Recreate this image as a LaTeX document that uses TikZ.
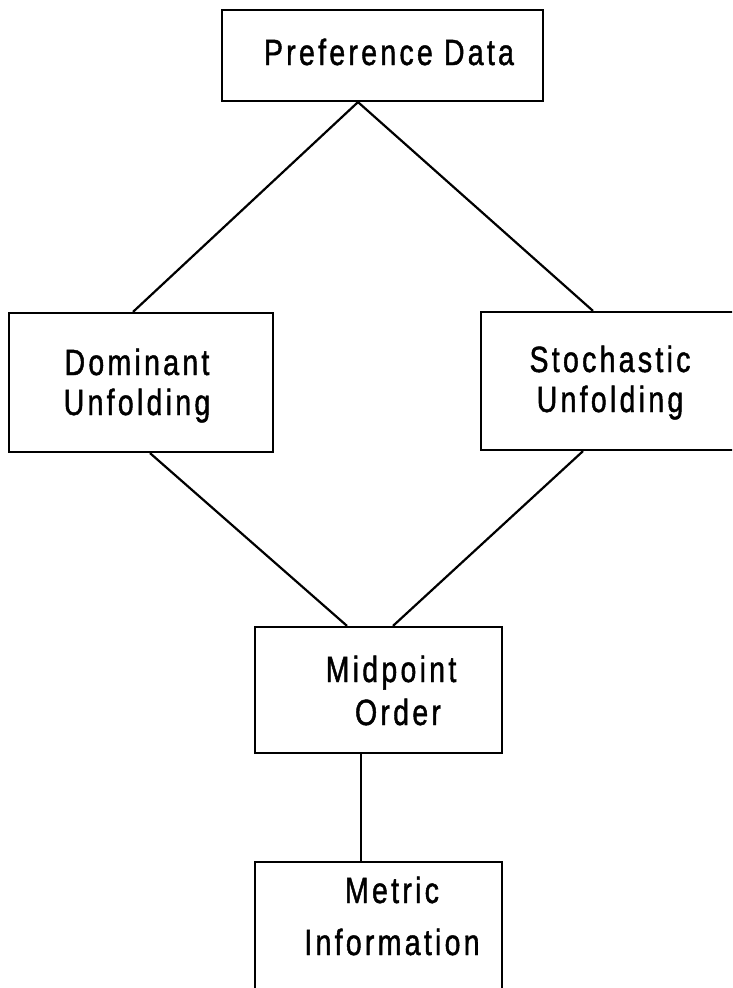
\documentclass[tikz,border=0pt]{standalone}
\usepackage{fontspec}
\setmainfont[FakeStretch=0.78,LetterSpace=9,FakeBold=1.2]{Liberation Sans}
\tikzset{
  box/.style={draw, line width=2.2pt, rectangle, inner sep=0pt},
  lbl/.style={anchor=base, inner sep=0pt, font=\fontsize{36.5}{40}\selectfont},
  conn/.style={line width=2.2pt}
}
\begin{document}
\begin{tikzpicture}[x=1pt,y=-1pt]
\useasboundingbox (0,0) rectangle (732,988);
\clip (0,0) rectangle (732,988);
% boxes (centre, size)
\node[box, minimum width=321pt, minimum height=91pt] (pref) at (382.5,55.5) {};
\node[box, minimum width=264pt, minimum height=139pt] (dom) at (141,382.5) {};
\node[box, minimum width=258pt, minimum height=138pt] (sto) at (610,381) {};
\node[box, minimum width=247pt, minimum height=126pt] (mid) at (378.5,690) {};
\node[box, minimum width=247pt, minimum height=140pt] (met) at (378.5,932) {};
% labels
\node[lbl] (preft) at (389,65) {Preference Data};
\node[lbl] (domt1) at (137,375) {Dominant};
\node[lbl] (domt2) at (137,415) {Unfolding};
\node[lbl] (stot1) at (610,372) {Stochastic};
\node[lbl] (stot2) at (610,412) {Unfolding};
\node[lbl] (midt1) at (391,682) {Midpoint};
\node[lbl] (midt2) at (398,725) {Order};
\node[lbl] (mett1) at (392,903) {Metric};
\node[lbl] (mett2) at (392,955) {Information};
% connectors
\draw[conn] ([xshift=-24.5pt]pref.south) -- ([xshift=-8pt]dom.north);
\draw[conn] ([xshift=-24.5pt]pref.south) -- ([xshift=-17pt]sto.north);
\draw[conn] ([xshift=9pt]dom.south) -- ([xshift=-31.5pt]mid.north);
\draw[conn] ([xshift=-27pt]sto.south) -- ([xshift=14.5pt]mid.north);
\draw[conn] ([xshift=-17.5pt]mid.south) -- ([xshift=-17.5pt]met.north);
\end{tikzpicture}
\end{document}
